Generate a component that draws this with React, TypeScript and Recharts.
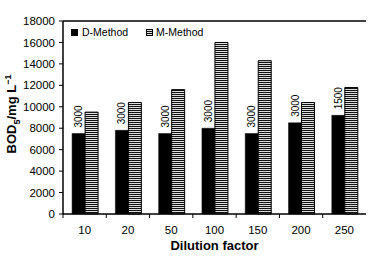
import { BarChart, Bar, XAxis, YAxis, LabelList, Label, ReferenceLine } from "recharts";

const categories = ["10", "20", "50", "100", "150", "200", "250"];
const dMethod = [7500, 7800, 7500, 8000, 7500, 8500, 9200];
const mMethod = [9500, 10400, 11600, 16000, 14300, 10400, 11800];
const dilutionLabels = ["3000", "3000", "3000", "3000", "3000", "3000", "1500"];
const yTicks = [0, 2000, 4000, 6000, 8000, 10000, 12000, 14000, 16000, 18000];

const data = categories.map((c, i) => ({
  name: c,
  d: dMethod[i],
  m: mMethod[i],
  lbl: dilutionLabels[i],
}));

const FONT = '"Liberation Sans", Arial, sans-serif';
const BAND = (366 - 63) / categories.length;

function XTick(props: any) {
  const { x, payload } = props;
  return (
    <g>
      <line x1={x - BAND / 2} x2={x - BAND / 2} y1={214} y2={218} stroke="#000" />
      <text x={x} y={234} textAnchor="middle" fontSize={11.5} fontFamily={FONT} fill="#000">
        {payload.value}
      </text>
    </g>
  );
}

const BarLabel = (props: any) => {
  const vb = props.viewBox ?? {};
  const x = Number(props.x ?? vb.x);
  const y = Number(props.y ?? vb.y);
  const width = Number(props.width ?? vb.width);
  const cx = x + width / 2;
  const ty = y - 6;
  return (
    <g transform={`translate(${cx} ${ty}) rotate(-90)`}>
      <text x={0} y={0} dy={3.5} fontSize={10} fontFamily={FONT} fill="#000">
        {props.value}
      </text>
    </g>
  );
};

function LegendBox() {
  return (
    <div
      style={{
        position: "absolute",
        top: 26,
        left: 71,
        display: "flex",
        alignItems: "center",
        fontFamily: FONT,
        fontSize: 10.5,
        color: "#000",
      }}
    >
      <div style={{ width: 7, height: 7, background: "#000", marginRight: 4 }} />
      <span style={{ marginRight: 18 }}>D-Method</span>
      <svg width={7} height={7} style={{ marginRight: 3 }}>
        <rect x={0.5} y={0.5} width={6} height={6} fill="url(#stripes)" stroke="#000" />
      </svg>
      <span>M-Method</span>
    </div>
  );
}

export default function App() {
  return (
    <div style={{ position: "absolute", left: 0, top: 0, width: 374, height: 256, background: "#fff" }}>
      <svg width={0} height={0} style={{ position: "absolute" }}>
        <defs>
          <pattern id="stripes" width={4} height={2} patternUnits="userSpaceOnUse">
            <rect width={4} height={2} fill="#dcdcdc" />
            <rect width={4} height={1} fill="#111" />
          </pattern>
        </defs>
      </svg>
      <BarChart
        width={374}
        height={256}
        data={data}
        margin={{ top: 21, right: 8, left: 0, bottom: 0 }}
        barCategoryGap="21%"
        barGap={0}
      >
        <XAxis
          dataKey="name"
          height={42}
          tickLine={false}
          axisLine={{ stroke: "#000", strokeWidth: 1.5 }}
          tick={<XTick />}
          interval={0}
        >
          <Label
            content={() => (
              <text x={214.5} y={250} textAnchor="middle" fontSize={13} fontWeight="bold" fontFamily={FONT} fill="#000">
                Dilution factor
              </text>
            )}
          />
        </XAxis>
        <YAxis
          width={63}
          domain={[0, 18000]}
          ticks={yTicks}
          interval={0}
          tickSize={4}
          tickMargin={4}
          tickLine={{ stroke: "#000" }}
          axisLine={{ stroke: "#000", strokeWidth: 1.5 }}
          tick={{ fontSize: 11.5, fill: "#000", fontFamily: FONT }}
        >
          <Label
            content={() => (
              <text
                x={16}
                y={114}
                transform="rotate(-90 16 114)"
                textAnchor="middle"
                fontSize={13}
                fontWeight="bold"
                fontFamily={FONT}
                fill="#000"
              >
                BOD
                <tspan fontSize={9} dy={4}>5</tspan>
                <tspan dy={-4}>/mg L</tspan>
                <tspan fontSize={9} dy={-5}>−1</tspan>
              </text>
            )}
          />
        </YAxis>
        <YAxis
          yAxisId="frame"
          orientation="right"
          width={0}
          domain={[0, 18000]}
          tick={false}
          tickLine={false}
          axisLine={{ stroke: "#000", strokeWidth: 1.5 }}
        />
        <ReferenceLine y={18000} stroke="#000" strokeWidth={1.5} />
        <Bar dataKey="d" name="D-Method" fill="#000" stroke="#000" strokeWidth={0.5} isAnimationActive={false}>
          <LabelList dataKey="lbl" content={BarLabel} />
        </Bar>
        <Bar dataKey="m" name="M-Method" fill="url(#stripes)" stroke="#000" strokeWidth={1} isAnimationActive={false} />
      </BarChart>
      <LegendBox />
    </div>
  );
}
